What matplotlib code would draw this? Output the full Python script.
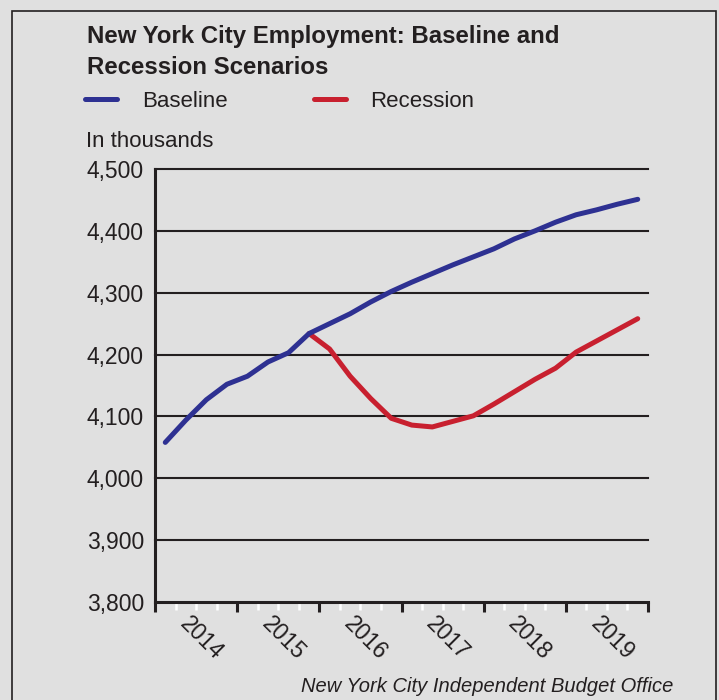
import numpy as np
import matplotlib
matplotlib.use("Agg")
import matplotlib.pyplot as plt
from matplotlib import font_manager
from matplotlib.lines import Line2D
from matplotlib.patches import Rectangle
from matplotlib.transforms import blended_transform_factory

# quarterly values, 2014 Q1 .. 2019 Q4 (thousands)
baseline = [4058, 4094, 4127, 4152, 4165, 4188, 4203, 4234,
            4250, 4266, 4285, 4302, 4317, 4331, 4345, 4358,
            4371, 4387, 4400, 4414, 4426, 4434, 4443, 4451]
# recession branches off at 2015 Q4
recession_start = 7
recession = [4234, 4209, 4165, 4129, 4097, 4086, 4083, 4092, 4101,
             4120, 4140, 4160, 4178, 4204, 4222, 4240, 4258]
years = ["2014", "2015", "2016", "2017", "2018", "2019"]
y_ticks = [3800, 3900, 4000, 4100, 4200, 4300, 4400, 4500]

BLUE = "#2e3192"
RED = "#c8202f"
BG = "#e0e0e0"
INK = "#231f20"

installed = {f.name for f in font_manager.fontManager.ttflist}
title_font = "Liberation Sans Narrow" if "Liberation Sans Narrow" in installed else "Liberation Sans"
plt.rcParams["font.family"] = ["Liberation Sans", "DejaVu Sans"]

W, H = 719, 700
fig = plt.figure(figsize=(W / 100, H / 100), dpi=100, facecolor=BG)


def fx(px):
    return px / W


def fy(py):
    return 1 - py / H


# outer frame
fig.add_artist(Rectangle((fx(12), fy(760)), fx(704), 749 / H, transform=fig.transFigure,
                         fill=False, edgecolor=INK, linewidth=1.2))

ax = fig.add_axes([fx(155), fy(602), fx(648) - fx(155), fy(169) - fy(602)])
ax.set_facecolor(BG)

x = np.arange(len(baseline)) + 0.5
ax.plot(x, baseline, color=BLUE, linewidth=3.6, solid_capstyle="round",
        solid_joinstyle="round", zorder=4)
xr = np.arange(recession_start, recession_start + len(recession)) + 0.5
ax.plot(xr, recession, color=RED, linewidth=3.6, solid_capstyle="round",
        solid_joinstyle="round", zorder=3)

ax.set_xlim(0, 24)
ax.set_ylim(3800, 4500)
for v in y_ticks[1:]:
    ax.axhline(v, color=INK, linewidth=1.5, zorder=1, clip_on=False)

for s in ["top", "right"]:
    ax.spines[s].set_visible(False)
for s in ["left", "bottom"]:
    ax.spines[s].set_color(INK)
    ax.spines[s].set_linewidth(2.2)
    ax.spines[s].set_capstyle("projecting")

ax.set_yticks(y_ticks)
ax.set_yticklabels([f"{v:,}" for v in y_ticks], fontsize=16.5, color=INK)
ax.tick_params(axis="y", length=0, pad=8)

ax.set_xticks(np.arange(0, 25, 4))
ax.set_xticklabels([])
ax.set_xticks([q for q in range(1, 24) if q % 4], minor=True)
ax.tick_params(axis="x", which="major", length=7, width=2.2, color=INK)
ax.tick_params(axis="x", which="minor", length=6, width=1.8, color="white")

trans = blended_transform_factory(ax.transData, ax.transAxes)
for i, yr in enumerate(years):
    ax.text(4 * i + 2.25, -0.084, yr, transform=trans, rotation=-45,
            ha="center", va="center", rotation_mode="anchor",
            fontsize=16.5, color=INK)

# title, legend, units
title_kw = dict(fontsize=17.3, fontweight="bold", family=[title_font, "DejaVu Sans"],
                color=INK, ha="left", va="baseline")
fig.text(fx(87), fy(42.5), "New York City Employment: Baseline and", **title_kw)
fig.text(fx(87), fy(73.5), "Recession Scenarios", **title_kw)

fig.add_artist(Line2D([fx(85), fx(117)], [fy(99), fy(99)], color=BLUE, linewidth=3.6,
                      solid_capstyle="round", transform=fig.transFigure))
fig.text(fx(142), fy(107.3), "Baseline", fontsize=16, color=INK, ha="left", va="baseline")
fig.add_artist(Line2D([fx(314), fx(346)], [fy(99), fy(99)], color=RED, linewidth=3.6,
                      solid_capstyle="round", transform=fig.transFigure))
fig.text(fx(370), fy(107.3), "Recession", fontsize=16, color=INK, ha="left", va="baseline")
fig.text(fx(86), fy(146.7), "In thousands", fontsize=16, color=INK, ha="left", va="baseline")

fig.text(fx(673), fy(692), "New York City Independent Budget Office", fontsize=14.5,
         style="italic", color=INK, ha="right", va="baseline")

fig.savefig("out.png", dpi=100, facecolor=BG)
